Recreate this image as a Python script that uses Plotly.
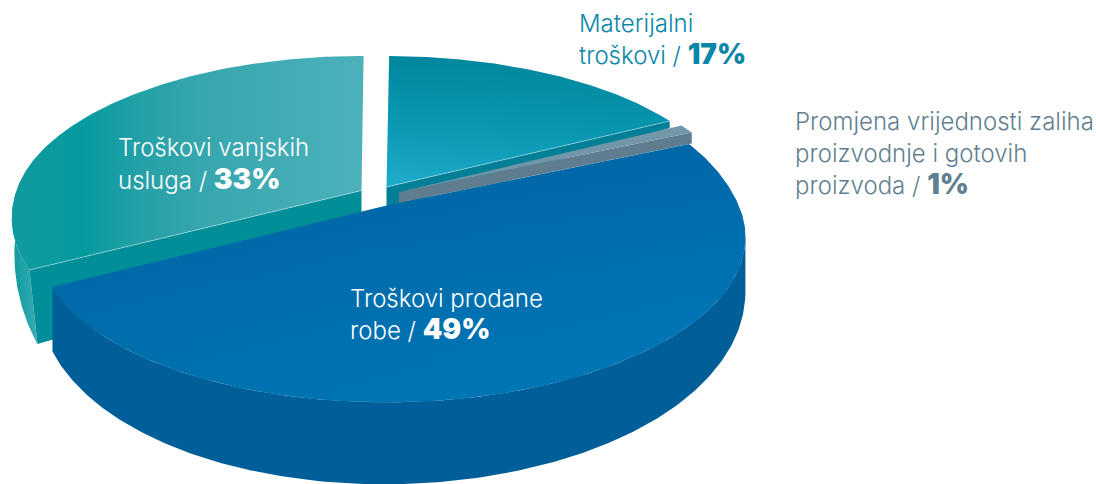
import numpy as np
import plotly.graph_objects as go

# ---- data ----
categories = ["Materijalni troškovi", "Promjena vrijednosti zaliha proizvodnje i gotovih proizvoda",
              "Troškovi prodane robe", "Troškovi vanjskih usluga"]
shares = [17, 1, 49, 33]   # clockwise from 12 o'clock
percent_labels = ["17%", "1%", "49%", "33%"]

# ---- look of each slice in the exploded 3-D view ----
style = {
    categories[0]: dict(apex=(386.5, 187), A=341, B=147.6, k=.127, l=0, S=0, q=0, q2=0, rot=-.5,
        grad=("vertical", [[0, "#1fadcc"], [.45, "#0b9ab5"], [1, "#00879d"]]),
        over=("horizontal", [[0, "rgba(0,135,157,0)"], [1, "rgba(0,135,157,0.35)"]]),
        cut="#007f96", cut_at=-1, cut_drop=(22, 7), rim=None, hl=True),
    categories[1]: dict(apex=(399, 192), A=341, B=147.6, k=.127, l=0, S=0, q=0, q2=0, rot=0,
        grad=("vertical", [[0, "#6f93a6"], [1, "#7298aa"]]), over=None,
        cut="#5f7d8f", cut_at=-1, cut_drop=(11, 11), rim=None, hl=False),
    categories[2]: dict(apex=(385, 206), A=345, B=155, k=.21, l=-.025, S=8, q=50, q2=0, rot=0,
        grad=("horizontal", [[0, "#00619d"], [1, "#0078b8"]]),
        over=("vertical", [[0, "rgba(0,122,186,0.55)"], [1, "rgba(0,98,162,0.75)"]]),
        cut=None, cut_at=0, cut_drop=None, rim=(48, 34, 0, "#005f98", "#005f98"), hl=False),
    categories[3]: dict(apex=(361.5, 190.5), A=345, B=154.9, k=.1515, l=0, S=0, q=0, q2=25, rot=-.4,
        grad=("horizontal", [[0, "#129a9e"], [.2, "#049b9f"], [.35, "#22a0a6"], [.55, "#37a7ae"], [1, "#4cb1bb"]]),
        over=None, cut="#008f98", cut_at=0, cut_drop=(60, 74),
        rim=(35, 82, .024, "#0c9a9e", "#52b6bb"), hl=True),
}


def project(s, t):
    u, v = np.cos(t), np.sin(t)
    w = 1 + s["k"] * v + s["l"] * u
    x = ((s["A"] * u + s["S"] * v) / w
         + s["q"] * u * np.maximum(v, 0) ** 2 + s["q2"] * u * np.minimum(v, 0) ** 2)
    return x, -s["B"] * v / w, v


fig = go.Figure()


def poly(x, y, **kw):
    fig.add_trace(go.Scatter(x=list(x), y=list(y), mode="lines", fill="toself", hoverinfo="skip",
                             showlegend=False, line=dict(width=0), **kw))


arcs = {}
start = 90.0
for c, p in zip(categories, shares):
    sweep = 360.0 * p / sum(shares)
    arcs[c] = (start, start - sweep)
    start -= sweep

order = [categories[3], categories[0], categories[1], categories[2]]

for c in order:
    s = style[c]
    a0, a1 = arcs[c]
    ts = np.radians(np.linspace(a0, a1, 240) + s["rot"])
    X, Y, V = project(s, ts)
    ax, ay = s["apex"]

    # outer rim
    if s["rim"]:
        d0, d1, shrink, c0, c1 = s["rim"]
        if s["hl"]:
            mask = (np.degrees(ts) < -145) & (np.degrees(ts) > -200)
        else:
            # the rim starts where the top face reaches its right-most point
            mask = np.arange(len(ts)) >= int(np.argmax(X))
        d = d0 + d1 * (-V[mask])
        xt, yt = ax + X[mask], ay + Y[mask]
        pull = shrink * np.clip(-V[mask] / .48, 0, 1)
        xb, yb = ax + X[mask] * (1 - pull), yt + d
        poly(np.r_[xt, xb[::-1]], np.r_[yt, yb[::-1]],
             fillgradient=dict(type="horizontal", colorscale=[[0, c0], [1, c1]]))

    # visible radial cut under one straight edge
    i = s["cut_at"]
    if s["cut"]:
        da, de = s["cut_drop"]
        ex, ey = ax + X[i], ay + Y[i]
        shrink = s["rim"][2] if s["rim"] else 0
        poly([ax, ex, ax + X[i] * (1 - shrink), ax], [ay, ey, ey + de, ay + da], fillcolor=s["cut"])

    # top face
    gtype, scale = s["grad"]
    poly(np.r_[ax, ax + X, ax], np.r_[ay, ay + Y, ay],
         fillgradient=dict(type=gtype, colorscale=scale))
    if s["over"]:
        gtype, scale = s["over"]
        poly(np.r_[ax, ax + X, ax], np.r_[ay, ay + Y, ay],
             fillgradient=dict(type=gtype, colorscale=scale))

    # thin highlight along the cut edge
    if s["hl"]:
        fig.add_trace(go.Scatter(x=[ax, ax + X[i]], y=[ay, ay + Y[i]], mode="lines", hoverinfo="skip",
                                 showlegend=False, line=dict(width=1, color="rgba(255,255,255,0.4)")))

# ---- labels ----
FONT = "Inter"
labels = [
    (579, 23, "Materijalni", None, "#0a86a8"),
    (579, 54, "troškovi / ", percent_labels[0], "#0a86a8"),
    (795, 121, "Promjena vrijednosti zaliha", None, "#617f90"),
    (795, 153, "proizvodnje i gotovih", None, "#617f90"),
    (795, 184, "proizvoda / ", percent_labels[1], "#617f90"),
    (118, 147, "Troškovi vanjskih", None, "#ffffff"),
    (118, 179, "usluga / ", percent_labels[3], "#ffffff"),
    (350, 298, "Troškovi prodane", None, "#ffffff"),
    (350, 329, "robe / ", percent_labels[2], "#ffffff"),
]
for x, y, txt, pct, col in labels:
    t = txt
    if pct:
        t += f'<span style="font-size:28px;font-weight:900">{pct}</span>'
    fig.add_annotation(x=x, y=y, text=t, showarrow=False, xanchor="left", yanchor="middle", xshift=-2,
                       font=dict(family=FONT, size=24, color=col, weight=300))

fig.update_layout(width=1096, height=484, margin=dict(l=0, r=0, t=0, b=0),
                  paper_bgcolor="white", plot_bgcolor="white", showlegend=False,
                  xaxis=dict(range=[0, 1096], visible=False, fixedrange=True),
                  yaxis=dict(range=[484, 0], visible=False, fixedrange=True))
fig.write_html("out.html", config=dict(displayModeBar=False),
               post_script="document.body.style.margin='0';")
